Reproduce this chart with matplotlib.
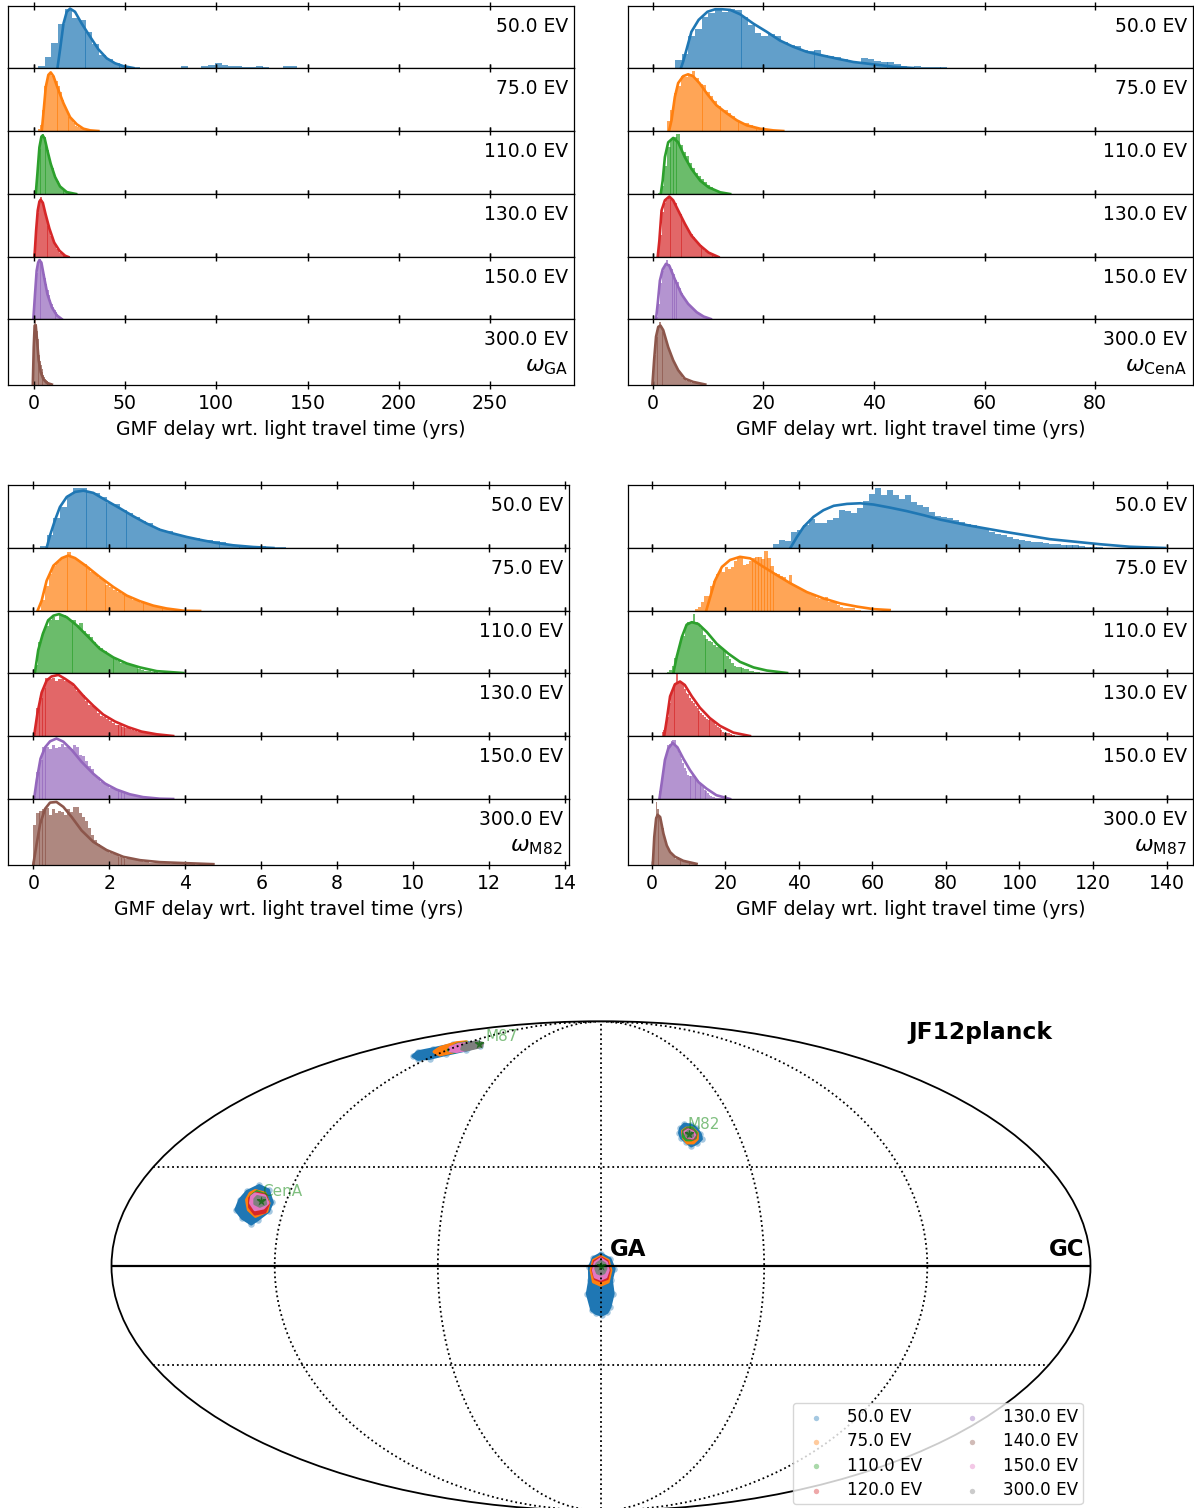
import numpy as np
import matplotlib
matplotlib.use('Agg')
import matplotlib.pyplot as plt

W, H = 1194, 1508
ENERGIES = ['50.0 EV', '75.0 EV', '110.0 EV', '130.0 EV', '150.0 EV', '300.0 EV']
COLORS = ['C0', 'C1', 'C2', 'C3', 'C4', 'C5']
LEGEND_LABELS = ['50.0 EV', '75.0 EV', '110.0 EV', '120.0 EV', '130.0 EV', '140.0 EV', '150.0 EV', '300.0 EV']

# ---------------- GA ----------------
GA_START = [2.2, 2.2, 1.0, 0.3, -0.1, -0.6]
GA_WIDTH = [3.73, 1.2, 0.9, 0.8, 0.75, 0.45]
GA_HIST = [
    [.03,.17,.40,.70,.94,.80,.77,.58,.39,.21,.14,.085,.05,.02,.01,0,0,0,0,0,0,.03,0,0,.025,.045,.08,.045,.03,.03,.01,.01,.03,.01,0,0,.03,.03],
    [.03,.10,.33,.72,.86,.90,.87,.88,.80,.72,.62,.50,.38,.30,.23,.17,.12,.08,.06,.04,.03,.02,.01],
    [.15,.40,.72,.88,.96,.90,.80,.70,.58,.50,.42,.33,.26,.20,.15,.11,.08,.06,.04,.03,.02,.01],
    [.08,.42,.70,.86,.96,.88,.78,.70,.60,.50,.42,.34,.28,.23,.18,.13,.10,.07,.05,.04,.03,.02],
    [.1,.5,.75,.88,.97,.93,.84,.72,.66,.56,.47,.38,.30,.24,.19,.15,.11,.08,.05,.03,.02],
    [.2,.65,.92,.98,.92,.82,.70,.58,.45,.36,.30,.24,.19,.15,.12,.09,.07,.06,.05,.04,.03,.03,.02,.02,.01],
]
GA_CX = [
    [13,14.4,16.3,18.1,19.9,22.6,26.3,30.9,35.4,40,44.6,49.1,54.6],
    [4.4,5.3,6.6,8.0,9.3,10.8,13,16.3,19.9,23.6,27.2,30.9,35.4],
    [1.1,2.0,3.1,4.2,4.9,6.0,7.5,9.3,11.7,14.4,18.1,23.2],
    [.4,1.3,2.2,3.1,3.8,5,6.4,8.6,11.2,14.1,17.2,19],
    [-.2,.7,1.6,2.4,3.1,4.2,5.7,7.5,9.9,12.6,15.3],
    [-.5,0,.5,1.1,1.8,2.7,3.8,5.3,7.1,9.9],
]
GA_CY = [
    [0,.29,.71,.90,.95,.90,.71,.50,.30,.155,.075,.03,0],
    [0,.28,.70,.89,.93,.87,.69,.44,.22,.106,.037,.01,0],
    [0,.32,.74,.91,.93,.88,.69,.48,.27,.12,.03,0],
    [0,.42,.74,.88,.91,.86,.69,.45,.23,.10,.02,0],
    [0,.40,.78,.91,.95,.91,.67,.40,.19,.06,0],
    [0,.57,.90,.90,.68,.37,.19,.08,.025,0],
]
GA_TICKS = [0, 50, 100, 150, 200, 250]
GA_XLIM = (-14.1, 296)

# ---------------- CenA ----------------
CENA_START = [4.04, 2.5, 1.0, 0.8, 0.6, -0.05]
CENA_WIDTH = [1.2, 0.65, 0.55, 0.4, 0.37, 0.3]
CENA_HIST = [
    [.13,.23,.51,.62,.81,.88,.93,.90,.95,.93,.82,.69,.56,.51,.54,.51,.42,.37,.36,.29,.28,.29,.21,.19,.18,.14,.12,.10,.16,.14,.11,.10,.096,.07,.03,.015,.03,.02,.02,.015,.01],
    [.16,.34,.60,.72,.87,.85,.90,.95,.84,.74,.73,.62,.55,.47,.40,.34,.33,.28,.24,.18,.14,.12,.13,.09,.06,.05,.03,.02,.01,.01],
    [.02,.12,.45,.75,.85,.90,.95,.78,.66,.60,.50,.42,.33,.29,.24,.19,.14,.11,.08,.05,.03,.02],
    [.06,.35,.72,.85,.90,.93,.90,.88,.85,.76,.68,.60,.54,.47,.41,.36,.32,.25,.22,.19,.14,.10,.08,.06,.04,.03,.02,.01],
    [.04,.25,.58,.78,.87,.95,.88,.80,.73,.63,.60,.50,.42,.36,.30,.25,.22,.18,.14,.11,.09,.07,.05,.04,.03,.02,.01],
    [.1,.45,.72,.87,.95,.88,.80,.72,.66,.58,.50,.43,.36,.31,.26,.22,.17,.13,.10,.08,.06,.05,.04,.03,.025,.02,.02,.015,.01,.01],
]
CENA_CX = [
    [5.1,5.5,6.1,7.0,8.3,9.9,11.3,12.5,14,15.8,18.2,20.6,23,25.4,27.8,30.2,33.3,36.3,39.9,43.5,47.1],
    [2.95,3.4,4.0,4.6,5.5,6.4,7.3,8.5,10,11.5,13.4,15.2,17,19.4,21.8,23.6],
    [1.45,1.8,2.2,2.8,3.7,4.6,5.8,7.0,8.6,10.1,12.2,14],
    [.9,1.2,1.6,2.2,3,3.7,4.6,5.8,7,8.6,10.1,11.9],
    [.6,.9,1.3,1.8,2.4,3,4,5.2,6.4,7.95,9.2,10.5],
    [-.05,.25,.6,1,1.4,1.9,2.8,3.7,4.6,5.8,7.3,9.5],
]
CENA_CY = [
    [0,.10,.29,.58,.77,.90,.94,.94,.93,.86,.71,.58,.44,.34,.26,.21,.15,.096,.059,.02,0],
    [0,.17,.54,.76,.87,.90,.87,.755,.57,.41,.28,.17,.09,.037,.01,0],
    [0,.21,.585,.82,.89,.82,.585,.40,.21,.106,.027,0],
    [0,.26,.74,.90,.96,.90,.74,.53,.34,.18,.07,0],
    [0,.245,.62,.80,.89,.86,.64,.40,.245,.11,.04,0],
    [0,.37,.73,.88,.90,.83,.57,.37,.22,.09,.04,0],
]
CENA_TICKS = [0, 20, 40, 60, 80]
CENA_XLIM = (-4.56, 97.7)

# ---------------- M82 ----------------
M82_START = [0.175, 0.1, 0.04, 0.0, 0.0, 0.0]
M82_WIDTH = [0.175, 0.1, 0.09, 0.08, 0.08, 0.08]
M82_HIST = [
    [.027,.20,.47,.65,.84,.95,.95,.89,.88,.81,.72,.70,.60,.55,.49,.43,.39,.32,.28,.27,.22,.19,.175,.165,.12,.12,.11,.09,.06,.04,.04,.037,.027,.037,.01,.01,.01],
    [.02,.18,.40,.58,.72,.78,.84,.86,.93,.86,.82,.78,.74,.70,.62,.58,.53,.49,.42,.38,.33,.30,.27,.26,.23,.18,.16,.12,.13,.11,.08,.06,.05,.04,.03,.02,.02,.01,.01,.005],
    [.13,.50,.66,.76,.85,.90,.85,.93,.93,.89,.85,.86,.77,.80,.67,.63,.58,.50,.44,.40,.35,.30,.26,.23,.19,.16,.14,.13,.12,.09,.07,.05,.04,.03,.02,.01],
    [.05,.44,.60,.76,.92,.90,.92,.87,.91,.90,.87,.85,.82,.78,.72,.68,.65,.56,.50,.47,.44,.37,.32,.30,.27,.24,.21,.18,.17,.15,.13,.12,.10,.08,.07,.06,.05,.04,.03,.03,.02,.02,.01,.01,.01],
    [.04,.43,.62,.82,.83,.80,.85,.81,.82,.87,.83,.84,.80,.85,.83,.70,.68,.60,.52,.48,.37,.35,.27,.25,.22,.18,.17,.14,.13,.11,.09,.08,.06,.05,.04,.03,.02,.02,.01,.01,.01],
    [.61,.78,.81,.84,.86,.75,.85,.78,.82,.80,.75,.85,.80,.88,.88,.78,.72,.66,.55,.45,.37,.31,.27,.24,.22,.18,.16,.14,.12,.10,.09,.08,.08,.07,.06,.05,.04,.04,.03,.03,.03,.02,.02,.02,.02,.01,.01,.01,.01,.01,.01,.005,.005],
]
M82_CX = [
    [.35,.44,.57,.70,.88,1.1,1.32,1.58,1.93,2.28,2.63,2.98,3.33,3.68,4.04,4.39,4.82,5.26,5.79,6.32],
    [.11,.22,.35,.53,.75,.92,1.10,1.40,1.75,2.11,2.46,2.81,3.16,3.51,3.95,4.39],
    [.04,.13,.25,.39,.53,.68,.88,1.14,1.45,1.75,2.11,2.46,2.81,3.25,3.95],
    [.02,.11,.22,.35,.48,.66,.83,1.05,1.32,1.58,1.84,2.15,2.5,2.85,3.25,3.68],
    [.02,.09,.19,.31,.44,.61,.79,1.01,1.27,1.58,1.89,2.19,2.54,2.89,3.33,3.68],
    [0,.09,.18,.31,.44,.61,.79,1.01,1.27,1.58,1.93,2.37,2.81,3.33,4.04,4.74],
]
M82_CY = [
    [0,.20,.44,.65,.81,.89,.91,.875,.75,.63,.505,.39,.29,.23,.175,.13,.08,.043,.016,0],
    [0,.165,.48,.72,.84,.88,.84,.71,.54,.38,.245,.155,.085,.04,.005,0],
    [0,.37,.63,.85,.925,.95,.90,.77,.58,.39,.25,.154,.09,.03,0],
    [0,.365,.69,.88,.945,.97,.91,.82,.635,.48,.34,.23,.14,.07,.027,0],
    [0,.30,.64,.82,.915,.96,.91,.78,.59,.40,.245,.15,.075,.03,.005,0],
    [0,.32,.62,.85,.945,.955,.88,.725,.52,.345,.22,.117,.066,.036,.02,.005],
]
M82_TICKS = [0, 2, 4, 6, 8, 10, 12, 14]
M82_XLIM = (-0.666, 14.1)

# ---------------- M87 ----------------
M87_START = [31.3, 11.8, 4.1, 2.7, 2.0, 0.1]
M87_WIDTH = [1.63, 0.82, 0.7, 0.5, 0.45, 0.35]
M87_HIST = [
    [.005,.07,.13,.11,.255,.28,.36,.46,.39,.39,.44,.48,.60,.59,.56,.63,.74,.85,.95,.84,.92,.84,.77,.84,.73,.68,.65,.57,.51,.49,.47,.44,.41,.38,.36,.33,.30,.26,.22,.20,.18,.15,.13,.11,.10,.09,.08,.07,.06,.05,.05,.04,.03,.02,.02,.01],
    [.03,.07,.14,.24,.24,.40,.47,.58,.65,.62,.70,.66,.70,.80,.85,.85,.73,.74,.80,.84,.85,.85,.82,.95,.84,.72,.60,.58,.56,.54,.48,.57,.42,.40,.36,.33,.32,.28,.26,.24,.21,.19,.20,.22,.14,.15,.13,.10,.06,.05,.04,.04,.05,.02,.01],
    [.02,.05,.11,.25,.37,.50,.60,.75,.82,.83,.95,.82,.78,.72,.62,.55,.52,.50,.45,.42,.43,.40,.35,.28,.22,.16,.12,.10,.09,.08,.07,.06,.04,.03,.02,.01],
    [.06,.09,.14,.30,.52,.68,.78,.82,.98,.88,.86,.82,.74,.68,.66,.60,.56,.52,.47,.44,.40,.37,.34,.30,.27,.25,.27,.24,.22,.18,.15,.12,.10,.07,.05,.05,.04,.03,.02,.01],
    [.12,.26,.42,.62,.72,.85,.88,.92,.94,.93,.85,.78,.72,.64,.57,.50,.45,.38,.36,.37,.38,.36,.33,.30,.26,.22,.19,.14,.12,.10,.07,.05,.03,.03,.02,.02,.01,.01,.01,.01,.01,.01],
    [.1,.40,.72,.95,.85,.76,.72,.62,.55,.45,.35,.28,.25,.20,.17,.14,.12,.11,.09,.10,.11,.09,.08,.07,.06,.05,.05,.04,.03,.02,.02,.01,.01,.01,.01],
]
M87_CX = [
    [37.7,39.5,41.3,44,46.7,49.5,53.1,56.7,60.3,64.9,69.4,74,78.5,86,94.7,108.3,121.9,130,139.6],
    [14.8,15.9,17.2,19.1,21.3,24,26.8,30.4,34,37.7,42.2,46.7,51.3,55.8,60.3,64.7],
    [5.9,6.8,8.2,9.5,10.9,12.7,15,17.7,20.9,24,27.7,31.3,36.8],
    [3.4,4.1,5,6.3,7.7,9,10.9,13.1,15.8,18.6,22.2,26.7],
    [2.1,2.7,3.6,4.5,5.7,7,8.6,10.4,12.7,14.9,17.6,21.3],
    [.3,.7,1.2,1.6,2.3,3.2,4.1,5,6.3,8.6,12.2],
]
M87_CY = [
    [0,.175,.335,.495,.60,.67,.70,.71,.69,.64,.585,.52,.45,.36,.27,.14,.06,.02,0],
    [0,.22,.48,.70,.81,.86,.835,.70,.57,.44,.30,.20,.12,.07,.03,.015],
    [0,.26,.58,.78,.82,.79,.66,.47,.31,.18,.09,.04,0],
    [0,.26,.63,.82,.865,.81,.63,.45,.285,.16,.054,0],
    [0,.245,.62,.80,.89,.82,.64,.46,.27,.165,.06,0],
    [0,.42,.70,.76,.725,.47,.29,.19,.12,.056,.01],
]
M87_TICKS = [0, 20, 40, 60, 80, 100, 120, 140]
M87_XLIM = (-6.58, 147.2)

# ---------------- sky map: regions filled by each energy (lon, lat in deg) ----------------
GA_SKY = {
    'C0': ([-.11,3.31,4.89,3.86,4.53,3.4,2.3,.26,-1.9,-3.5,-5.1,-4.23,-4.3,-2.83], [3.68,2.18,-.81,-4.2,-8.28,-12.26,-13.9,-14.74,-14.2,-13.25,-8.28,-4.28,-.3,2.48]),
    'C1': ([-.11,2.69,3.68,2.69,-.11,-2.83,-3.68,-2.83], [2.9,1.7,-1.29,-4.78,-5.77,-4.78,-1.29,1.7]),
    'C3': ([-.11,2.32,3.06,2.32,-.11,-2.2,-3.06,-2.47], [2.48,1.4,-1.29,-3.8,-4.49,-3.8,-1.29,1.4]),
    'C6': ([-.11,2.1,2.69,1.84,-.11,-2.2,-2.83,-2.2], [2.18,.99,-1.29,-3.29,-3.98,-3.29,-1.29,.99]),
    'C7': ([-.11,1.47,1.84,1.1,-.11,-1.36,-1.95,-1.58], [1.5,.69,-.81,-2.09,-2.48,-2.09,-.81,.69]),
}
CENA_SKY = {
    'C0': ([-133.13,-128.65,-125.1,-125.38,-128.59,-130.54,-134.57,-138,-137.99,-136.69], [24.29,22.95,19.09,16.34,13.77,12.54,14.29,16.83,19.89,22.46]),
    'C1': ([-133.68,-129.45,-126.26,-126.03,-129.75,-133.27,-135.43,-135.18], [22.76,21.94,18.88,16.34,14.81,16.83,19.89,21.94]),
    'C2': ([-132.87,-128.81,-126.64,-127.31,-130.66,-133.41,-134.41], [22.46,21.42,18.88,16.83,16.64,18.36,20.93]),
    'C3': ([-132.62,-128.88,-126.38,-126.69,-130.21,-133.17,-134.53], [21.94,21.33,18.57,16.12,15.51,17.65,20.41]),
    'C6': ([-133.16,-129.04,-126.64,-127.79,-130.75,-133.4,-134.03], [21.72,21.11,18.88,17.35,16.83,18.88,20.93]),
    'C7': ([-131.85,-128.69,-127.45,-129.35,-131.65,-132.36], [20.93,20.41,18.66,17.87,18.66,20.1]),
}
M82_SKY = {
    'C0': ([35.39,37.62,40.55,42.38,43.41,43.24,41.02,38.03,36.33,34.62,34.35], [42.69,44.02,43.69,42.69,40.7,39.04,37.71,36.72,38.04,39.37,41.03]),
    'C1': ([35.9,38.01,40.63,42.22,41.5,39.27,36.65,35.5], [41.7,42.69,42.69,41.03,39.04,37.71,37.71,39.37]),
    'C2': ([36.34,38.45,40.63,41.78,40.74,38.75,36.57,35.62], [41.7,42.69,42.69,41.03,39.37,38.71,38.71,39.7]),
    'C5': ([36.42,38.16,40.35,41.22,39.91,37.29], [41.36,42.36,42.03,40.37,39.04,39.37]),
    'C6': ([36.85,38.6,40.35,40.79,39.47,37.29], [41.36,42.03,41.36,40.37,39.37,39.7]),
    'C7': ([37.29,38.6,39.91,39.91,38.6,37.29], [41.03,41.7,41.03,40.04,39.7,40.04]),
}
M87_SKY = {
    'C0': ([-134.4,-139.4,-134.3,-128.3,-121.2,-108.8,-101.6,-105.1,-113.1,-118.9,-125.5], [69.5,71.5,72.9,75,75.8,75.5,74.2,72.25,70.3,68.5,68.1]),
    'C1': ([-127.2,-131.2,-130.2,-123.9,-109.5,-112,-116.9], [71.5,73.4,75.8,76.3,73.4,71.3,70]),
    'C2': ([-119.5,-125.3,-121.2,-109.5,-110.7], [72.25,75,75.8,73.4,71.3]),
    'C6': ([-123.1,-123.9,-119.1,-106.4,-110.1,-116.2], [73.4,75,75.5,72.25,71.5,71.8]),
    'C7': ([-117.2,-115.5,-104.9,-99,-105.1,-110.3], [74.5,76.4,75.5,73.9,72.25,72.6]),
}
STAR_LON = [0, -129.5, 38.6, -105.7]
STAR_LAT = [0, 19.49, 40.7, 75]
SKY_LABEL = ['CenA', 'M82', 'M87']
SKY_LABEL_LON = [-130.7, 39.1, -121.6]
SKY_LABEL_LAT = [22.4, 43.7, 78.9]

plt.rcParams['font.family'] = 'DejaVu Sans'
FS = 13.6
fig = plt.figure(figsize=(W / 100, H / 100), dpi=100)


def px_axes(l, r, t, b, **kw):
    return fig.add_axes([l / W, 1 - b / H, (r - l) / W, (b - t) / H], **kw)


def ridge(left, right, ys, start, width, hist, cx, cy, ticks, xlim, omega):
    overlap = 0.12 * (xlim[1] - xlim[0]) / (right - left)
    for i in range(6):
        ax = px_axes(left, right, ys[i], ys[i + 1])
        h = np.array(hist[i], dtype=float)
        ax.bar(start[i] + width[i] * np.arange(len(h)), h, width=width[i] + overlap, align='edge',
               color=COLORS[i], alpha=0.7, linewidth=0)
        ax.plot(cx[i], cy[i], color=COLORS[i], lw=1.9, solid_joinstyle='round')
        ax.set_xlim(*xlim)
        ax.set_ylim(0, 1)
        ax.set_yticks([])
        ax.set_xticks(ticks)
        ax.tick_params(axis='x', direction='inout', top=True, bottom=True, length=6, width=1,
                       labelbottom=(i == 5), labelsize=FS)
        for s in ax.spines.values():
            s.set_linewidth(0.9)
        yy = 0.68 if i == 5 else 0.672
        ax.text(1 - 6 / (right - left), yy, ENERGIES[i], transform=ax.transAxes, ha='right',
                va='center', fontsize=13.5)
        if i == 5:
            ax.text(1 - 6 / (right - left), 0.27, omega, transform=ax.transAxes, ha='right',
                    va='center', fontsize=FS + 2.5)
            ax.set_xlabel('GMF delay wrt. light travel time (yrs)', fontsize=FS, labelpad=5.2)


TOPS = [5.5, 68, 131, 194, 257, 319, 384.5]
BOTS = [485, 548, 611, 673, 736, 799, 864.5]
ridge(8, 574, TOPS, GA_START, GA_WIDTH, GA_HIST, GA_CX, GA_CY, GA_TICKS, GA_XLIM, r'$\omega_{\rm GA}$')
ridge(627.5, 1193, TOPS, CENA_START, CENA_WIDTH, CENA_HIST, CENA_CX, CENA_CY, CENA_TICKS, CENA_XLIM, r'$\omega_{\rm CenA}$')
ridge(8, 569, BOTS, M82_START, M82_WIDTH, M82_HIST, M82_CX, M82_CY, M82_TICKS, M82_XLIM, r'$\omega_{\rm M82}$')
ridge(627.5, 1193, BOTS, M87_START, M87_WIDTH, M87_HIST, M87_CX, M87_CY, M87_TICKS, M87_XLIM, r'$\omega_{\rm M87}$')

# ---------------- sky map ----------------
ax = fig.add_axes([111.5 / W, -2.75 / H, 979 / W, 489.5 / H], projection='mollweide')
ax.set_longitude_grid(60)
ax.set_longitude_grid_ends(90)
ax.set_yticks(np.radians([-30, 0, 30]))
ax.grid(True, ls=':', color='k', lw=1.3, zorder=5)
ax.set_axisbelow(False)
ax.set_xticklabels([])
ax.set_yticklabels([])
ax.spines['geo'].set_linewidth(1.3)
for sky in (GA_SKY, CENA_SKY, M82_SKY, M87_SKY):
    for color, (lon, lat) in sky.items():
        lo = np.radians(lon)
        la = np.radians(lat)
        ax.fill(lo, la, color=color, lw=2, joinstyle='round', zorder=2)
        if color == 'C0':
            ax.scatter(lo, la, s=22, color=color, alpha=0.4, linewidths=0, zorder=2)
ax.plot(np.radians([-180, 180]), [0, 0], color='k', lw=1.6, zorder=6)
ax.scatter(np.radians(STAR_LON), np.radians(STAR_LAT), marker='*', s=55, color='darkgreen',
           alpha=0.7, linewidths=0, zorder=7)
for t, lo, la in zip(SKY_LABEL, SKY_LABEL_LON, SKY_LABEL_LAT):
    ax.text(np.radians(lo), np.radians(la), t, color='green', alpha=0.5, fontsize=11, ha='left',
            va='center', zorder=8)
handles = [ax.scatter([], [], s=15, color='C%d' % i, alpha=0.4, linewidths=0, label=LEGEND_LABELS[i])
           for i in range(8)]
ax.legend(handles=handles, ncol=2, fontsize=12.05, labelspacing=0.38, borderpad=0.3, handlelength=2.2,
          handletextpad=0.72, columnspacing=1.9, loc='lower left', borderaxespad=0,
          bbox_to_anchor=(793 / W, 4 / H), bbox_transform=fig.transFigure)
fig.text(610 / W, 1 - 1250 / H, 'GA', fontweight='bold', fontsize=16.5, ha='left', va='center')
fig.text(1049 / W, 1 - 1250 / H, 'GC', fontweight='bold', fontsize=16.5, ha='left', va='center')
fig.text(908 / W, 1 - 1033 / H, 'JF12planck', fontweight='bold', fontsize=16.8, ha='left', va='center')

fig.savefig('out.png', dpi=100)
